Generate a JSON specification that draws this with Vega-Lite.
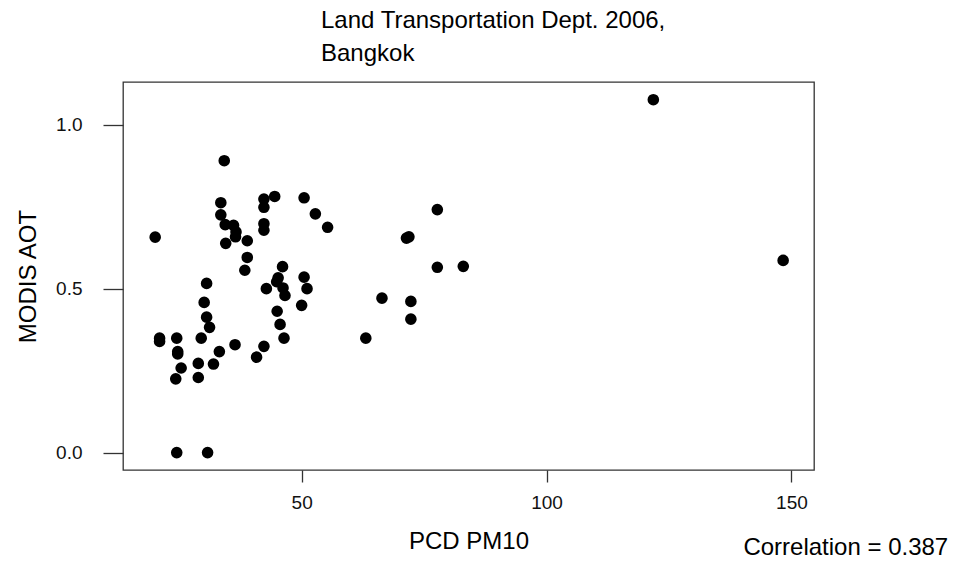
{
  "$schema": "https://vega.github.io/schema/vega-lite/v6.json",
  "width": 691,
  "height": 388,
  "autosize": {"type": "none"},
  "padding": {"left": 123, "top": 82, "right": 142, "bottom": 91},
  "background": "white",
  "title": {
    "text": ["Land Transportation Dept. 2006,", "Bangkok"],
    "anchor": "start",
    "frame": "group",
    "dx": 198,
    "offset": -3,
    "font": "Liberation Sans",
    "fontSize": 24,
    "fontWeight": "normal",
    "color": "#000000",
    "lineHeight": 33,
    "baseline": "alphabetic"
  },
  "datasets": {
    "pts": [
      {"pm10": 20.1, "aot": 0.657},
      {"pm10": 34.2, "aot": 0.890},
      {"pm10": 33.5, "aot": 0.762},
      {"pm10": 33.5, "aot": 0.725},
      {"pm10": 34.4, "aot": 0.695},
      {"pm10": 36.1, "aot": 0.693},
      {"pm10": 36.6, "aot": 0.673},
      {"pm10": 36.5, "aot": 0.658},
      {"pm10": 34.5, "aot": 0.638},
      {"pm10": 38.9, "aot": 0.646},
      {"pm10": 38.9, "aot": 0.595},
      {"pm10": 38.4, "aot": 0.556},
      {"pm10": 42.3, "aot": 0.773},
      {"pm10": 44.5, "aot": 0.781},
      {"pm10": 42.3, "aot": 0.748},
      {"pm10": 42.3, "aot": 0.698},
      {"pm10": 42.3, "aot": 0.678},
      {"pm10": 50.5, "aot": 0.777},
      {"pm10": 52.8, "aot": 0.728},
      {"pm10": 55.3, "aot": 0.687},
      {"pm10": 46.1, "aot": 0.567},
      {"pm10": 45.2, "aot": 0.533},
      {"pm10": 44.9, "aot": 0.521},
      {"pm10": 42.8, "aot": 0.500},
      {"pm10": 46.2, "aot": 0.502},
      {"pm10": 46.6, "aot": 0.479},
      {"pm10": 50.5, "aot": 0.535},
      {"pm10": 51.1, "aot": 0.500},
      {"pm10": 50.0, "aot": 0.449},
      {"pm10": 45.0, "aot": 0.431},
      {"pm10": 45.6, "aot": 0.391},
      {"pm10": 46.4, "aot": 0.349},
      {"pm10": 30.6, "aot": 0.516},
      {"pm10": 30.1, "aot": 0.458},
      {"pm10": 30.6, "aot": 0.413},
      {"pm10": 31.2, "aot": 0.382},
      {"pm10": 29.5, "aot": 0.349},
      {"pm10": 21.0, "aot": 0.349},
      {"pm10": 21.0, "aot": 0.339},
      {"pm10": 24.5, "aot": 0.349},
      {"pm10": 24.7, "aot": 0.308},
      {"pm10": 24.7, "aot": 0.301},
      {"pm10": 25.4, "aot": 0.258},
      {"pm10": 24.3, "aot": 0.225},
      {"pm10": 28.9, "aot": 0.272},
      {"pm10": 28.9, "aot": 0.229},
      {"pm10": 32.0, "aot": 0.270},
      {"pm10": 33.2, "aot": 0.308},
      {"pm10": 36.4, "aot": 0.329},
      {"pm10": 42.3, "aot": 0.324},
      {"pm10": 40.8, "aot": 0.291},
      {"pm10": 24.5, "aot": 0.000},
      {"pm10": 30.8, "aot": 0.000},
      {"pm10": 63.1, "aot": 0.349},
      {"pm10": 77.7, "aot": 0.741},
      {"pm10": 71.4, "aot": 0.654},
      {"pm10": 71.9, "aot": 0.658},
      {"pm10": 77.7, "aot": 0.565},
      {"pm10": 83.0, "aot": 0.568},
      {"pm10": 66.4, "aot": 0.471},
      {"pm10": 72.3, "aot": 0.461},
      {"pm10": 72.3, "aot": 0.407},
      {"pm10": 121.8, "aot": 1.076},
      {"pm10": 148.3, "aot": 0.586}
    ],
    "note": [{"label": "Correlation = 0.387"}]
  },
  "layer": [
    {
      "data": {"name": "pts"},
      "mark": {"type": "circle", "size": 135, "opacity": 1, "color": "#000000"},
      "encoding": {
        "x": {
          "field": "pm10",
          "type": "quantitative",
          "scale": {"domain": [13.53, 154.6], "nice": false, "zero": false},
          "axis": {
            "title": "PCD PM10",
            "values": [50, 100, 150],
            "format": "d",
            "tickSize": 12,
            "labelPadding": 11,
            "titlePadding": 17
          }
        },
        "y": {
          "field": "aot",
          "type": "quantitative",
          "scale": {"domain": [-0.053, 1.13], "nice": false, "zero": false},
          "axis": {
            "title": "MODIS AOT",
            "values": [0, 0.5, 1.0],
            "format": ".1f",
            "tickSize": 20,
            "labelPadding": 21,
            "titlePadding": 15
          }
        }
      }
    },
    {
      "data": {"name": "note"},
      "mark": {
        "type": "text",
        "align": "right",
        "baseline": "alphabetic",
        "font": "Liberation Sans",
        "fontSize": 24,
        "color": "#000000"
      },
      "encoding": {
        "x": {"datum": 182.0, "type": "quantitative"},
        "y": {"datum": -0.312, "type": "quantitative"},
        "text": {"field": "label"}
      }
    }
  ],
  "config": {
    "view": {"stroke": "#333333", "strokeWidth": 1.3},
    "axis": {
      "grid": false,
      "domain": false,
      "tickColor": "#333333",
      "tickWidth": 1.3,
      "labelFont": "Liberation Sans",
      "labelFontSize": 19,
      "labelColor": "#111111",
      "titleFont": "Liberation Sans",
      "titleFontSize": 24,
      "titleFontWeight": "normal",
      "titleColor": "#000000"
    },
    "axisY": {"labelAngle": 0, "labelAlign": "right", "labelBaseline": "middle"}
  }
}
